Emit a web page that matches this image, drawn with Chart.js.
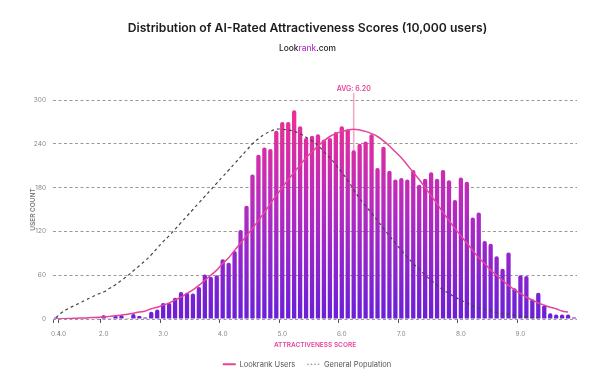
<!DOCTYPE html>
<html>
<head>
<meta charset="utf-8">
<title>AI-Rated Attractiveness Scores</title>
<script src="https://cdn.jsdelivr.net/npm/chart.js@4.4.1/dist/chart.umd.min.js"></script>
<style>
  html, body { margin: 0; padding: 0; background: #fff; }
  #wrap { position: relative; width: 615px; height: 376px; }
  #title { position: absolute; top: 20px; left: 0; width: 615px; text-align: center;
    font: 600 12.2px/16px Inter, sans-serif; color: #1d1d1f; }
  #sub { position: absolute; top: 42px; left: 0; width: 615px; text-align: center;
    font: 500 8.4px/12px Inter, sans-serif; color: #222; }
  #sub span { color: #b634c6; }
  canvas { position: absolute; top: 0; left: 0; }
</style>
</head>
<body>
<div id="wrap">
  <canvas id="scoresChart" width="615" height="376"></canvas>
  <div id="title">Distribution of AI-Rated Attractiveness Scores (10,000 users)</div>
  <div id="sub">Look<span>rank</span>.com</div>
</div>
<script>
const scores = [
  '0.4', '1.0', '1.4', '1.5', '1.6', '1.7', '1.8', '1.9',
  '2.0', '2.1', '2.2', '2.3', '2.4', '2.5', '2.6', '2.7', '2.8', '2.9',
  '3.0', '3.1', '3.2', '3.3', '3.4', '3.5', '3.6', '3.7', '3.8', '3.9',
  '4.0', '4.1', '4.2', '4.3', '4.4', '4.5', '4.6', '4.7', '4.8', '4.9',
  '5.0', '5.1', '5.2', '5.3', '5.4', '5.5', '5.6', '5.7', '5.8', '5.9',
  '6.0', '6.1', '6.2', '6.3', '6.4', '6.5', '6.6', '6.7', '6.8', '6.9',
  '7.0', '7.1', '7.2', '7.3', '7.4', '7.5', '7.6', '7.7', '7.8', '7.9',
  '8.0', '8.1', '8.2', '8.3', '8.4', '8.5', '8.6', '8.7', '8.8', '8.9',
  '9.0', '9.1', '9.2', '9.3', '9.4', '9.5', '9.6', '9.7', '9.8', '9.9'
];

// users per score
const userCounts = [
  2, 1, 0, 1, 0, 1, 0, 1,
  5, 1, 4, 5, 1, 7, 4, 2, 10, 13,
  22, 22, 29, 37, 36, 35, 44, 61, 58, 60,
  82, 77, 93, 122, 155, 198, 225, 235, 233, 258,
  270, 270, 286, 264, 248, 251, 253, 246, 248, 256,
  264, 260, 231, 240, 243, 253, 207, 236, 203, 191,
  193, 191, 204, 184, 192, 201, 192, 204, 190, 163,
  194, 188, 139, 146, 107, 103, 86, 69, 91, 42,
  60, 59, 27, 36, 19, 8, 6, 6, 6, 2
];

const lookrankCurve = [
  0, 0.3, 0.7, 0.9, 1.2, 1.5, 1.9, 2.3,
  2.9, 3.6, 4.4, 5.4, 6.5, 8, 9.5, 11, 14, 16,
  19, 22, 26, 30, 35, 40, 46, 53, 60, 67,
  76, 84, 94, 104, 114, 124, 135, 146, 158, 169,
  180, 191, 201, 211, 221, 229, 237, 244, 250, 254,
  257, 259, 260, 259, 257, 254, 250, 244, 237, 229,
  221, 211, 201, 191, 180, 169, 158, 146, 135, 124,
  114, 104, 94, 84, 76, 67, 60, 53, 46, 40,
  35, 30, 26, 22, 19, 16, 14, 11, 9.5, null
];

const generalCurve = [
  2, 9, 14, 18, 22, 26, 30, 34,
  37, 42, 47, 53, 59, 66, 73, 80, 88, 97,
  106, 114, 123, 132, 141, 150, 159, 168, 177, 186,
  195, 204, 213, 222, 231, 240, 247, 253, 257, 260,
  260, 259, 257, 254, 249, 244, 238, 229, 221, 211,
  201, 190, 177, 165, 155, 145, 135, 124, 114, 104,
  94, 85, 76, 68, 60, 53, 46, 40, 35, 30,
  26, 22, 18, 15, 13, 11, 9, 7, 6, 5,
  4, 3, 2, 2, null, null, null, null, null, null
];

const xTickLabels = ['0.4', '1.0', '2.0', '3.0', '4.0', '5.0', '6.0', '7.0', '8.0', '9.0'];
const avgScore = '6.2';
const avgText = 'AVG: 6.20';

const PINK = '#e6449a';

function barGradient(context) {
  const { ctx, chartArea } = context.chart;
  if (!chartArea) return '#9b2bd0';
  const g = ctx.createLinearGradient(0, chartArea.bottom, 0, chartArea.top);
  g.addColorStop(0, '#6a1fd8');
  g.addColorStop(0.5, '#b42ac2');
  g.addColorStop(1, '#f5308f');
  return g;
}

const avgLinePlugin = {
  id: 'avgLine',
  beforeDatasetsDraw(chart) {
    const { ctx, scales: { x, y } } = chart;
    const px = x.getPixelForValue(scores.indexOf(avgScore));
    ctx.save();
    ctx.strokeStyle = 'rgba(232, 80, 150, 0.5)';
    ctx.lineWidth = 1.5;
    ctx.beginPath();
    ctx.moveTo(px, y.top - 7);
    ctx.lineTo(px, y.bottom);
    ctx.stroke();
    ctx.fillStyle = PINK;
    ctx.font = '600 7px Inter';
    ctx.textAlign = 'center';
    ctx.textBaseline = 'bottom';
    ctx.fillText(avgText, px, y.top - 8);
    ctx.restore();
  }
};

// legend is centred on the whole page, not on the padded box
const legendShift = {
  id: 'legendShift',
  afterLayout(chart) {
    chart.legend.left += 4;
    chart.legend.right += 4;
  }
};

Chart.defaults.font.family = 'Inter, sans-serif';

new Chart(document.getElementById('scoresChart').getContext('2d'), {
  type: 'bar',
  data: {
    labels: scores,
    datasets: [{
      label: 'Users',
      data: userCounts,
      backgroundColor: barGradient,
      borderWidth: 0,
      borderRadius: 2,
      barPercentage: 0.72,
      categoryPercentage: 1.0,
      order: 2
    }, {
      type: 'line',
      label: 'Lookrank Users',
      data: lookrankCurve,
      borderColor: PINK,
      borderWidth: 1.5,
      pointRadius: 0,
      tension: 0.4,
      fill: false,
      order: 0
    }, {
      type: 'line',
      label: 'General Population',
      data: generalCurve,
      borderColor: '#444',
      borderWidth: 1.2,
      borderDash: [3, 3],
      pointRadius: 0,
      tension: 0.4,
      fill: false,
      order: 1
    }]
  },
  options: {
    responsive: false,
    animation: false,
    layout: { padding: { left: 29, right: 38, top: 100, bottom: -2 } },
    plugins: {
      tooltip: { enabled: false },
      legend: {
        position: 'bottom',
        labels: {
          usePointStyle: true,
          pointStyle: 'line',
          pointStyleWidth: 13,
          color: '#555',
          font: { size: 7.5 },
          padding: 12,
          filter: (item) => item.datasetIndex > 0,
          generateLabels(chart) {
            const items = Chart.defaults.plugins.legend.labels.generateLabels(chart);
            items.forEach((item) => {
              if (item.datasetIndex === 1) { item.lineWidth = 2; }
              if (item.datasetIndex === 2) { item.lineDash = [1.5, 2]; item.strokeStyle = '#777'; item.lineWidth = 1; }
            });
            return items;
          }
        }
      }
    },
    scales: {
      x: {
        offset: true,
        afterFit: (scale) => { scale.height = 29.5; },
        grid: {
          drawOnChartArea: false,
          drawTicks: true,
          tickLength: 4,
          tickColor: (ctx) => xTickLabels.includes(scores[ctx.index]) ? '#555' : 'rgba(0,0,0,0)'
        },
        border: { display: false },
        ticks: {
          autoSkip: false,
          maxRotation: 0,
          padding: 7,
          color: '#888',
          font: { size: 6.5 },
          callback: (value, i) => xTickLabels.includes(scores[i]) ? scores[i] : ''
        },
        title: {
          display: true,
          text: 'ATTRACTIVENESS SCORE',
          color: PINK,
          font: { size: 6.5, weight: '600' },
          padding: { top: 2, bottom: 0 }
        }
      },
      y: {
        min: 0,
        max: 300,
        afterFit: (scale) => { scale.width = 24; },
        grid: { color: '#9a9a9a', drawTicks: false },
        border: { display: false, dash: [3, 2.5] },
        ticks: { stepSize: 60, padding: 7, color: '#888', font: { size: 6.5 } },
        title: {
          display: true,
          text: 'USER COUNT',
          color: '#777',
          font: { size: 6.5, weight: '600' },
          padding: 0
        }
      }
    }
  },
  plugins: [avgLinePlugin, legendShift]
});
</script>
</body>
</html>
